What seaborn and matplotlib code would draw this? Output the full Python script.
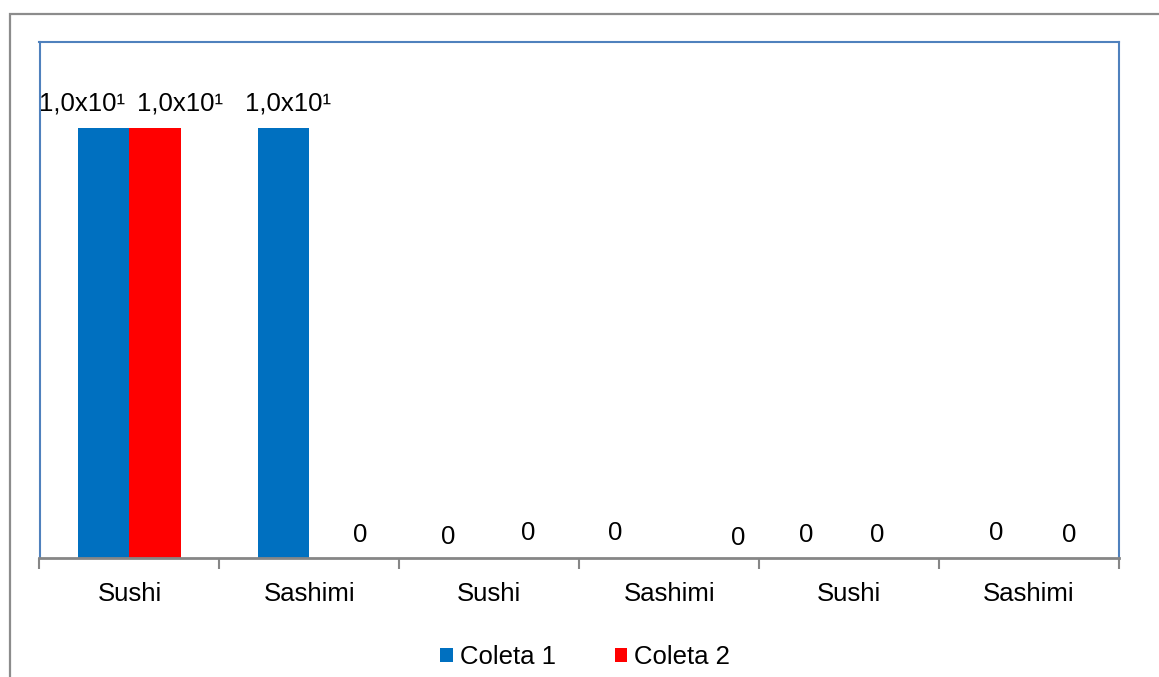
import matplotlib
matplotlib.use("Agg")
import matplotlib.pyplot as plt
import seaborn as sns
import pandas as pd
from matplotlib.patches import Rectangle, Patch

# ---- data ----
categories = ["Sushi", "Sashimi", "Sushi", "Sashimi", "Sushi", "Sashimi"]
coleta1 = [10, 10, 0, 0, 0, 0]
coleta2 = [10, 0, 0, 0, 0, 0]
series_names = ["Coleta 1", "Coleta 2"]

# label nudges (pixels) to mimic the hand-placed labels of the original
lab_dx = [[-22, 25], [4, 25], [-15, 13], [-28, 43], [-17, 2], [-7, 14]]
lab_dy = [[25, 25], [25, 23], [21, 25], [25, 20], [23, 23], [25, 23]]

colors = ["#0070C0", "#FF0000"]

rows = []
for i, c in enumerate(categories):
    rows.append({"pos": i, "serie": series_names[0], "valor": coleta1[i]})
    rows.append({"pos": i, "serie": series_names[1], "valor": coleta2[i]})
df = pd.DataFrame(rows)

sns.set_theme(style="white")
plt.rcParams["font.family"] = ["Liberation Sans", "DejaVu Sans"]
plt.rcParams["text.color"] = "black"

fig = plt.figure(figsize=(11.59, 6.77), dpi=100)
ax = fig.add_axes([39.5 / 1159, 1 - 558 / 677, (1119 - 39.5) / 1159, (558 - 42) / 677])

sns.barplot(data=df, x="pos", y="valor", hue="serie", hue_order=series_names,
            palette=colors, width=0.572, saturation=1, errorbar=None,
            linewidth=0, ax=ax, legend=False)

ax.set_xlim(-0.5, len(categories) - 0.5)
ax.set_ylim(0, 12)
ax.set_yticks([])
ax.set_xlabel("")
ax.set_ylabel("")

ax.set_xticks(range(len(categories)))
ax.set_xticklabels(categories, fontsize=18.5, color="black")
ax.set_xticks([x - 0.5 for x in range(len(categories) + 1)], minor=True)
ax.tick_params(axis="x", which="major", length=0, pad=17)
ax.tick_params(axis="x", which="minor", length=8, width=1.5, color="#868686", direction="out", bottom=True)

for side in ["top", "left", "right"]:
    ax.spines[side].set_color("#4F81BD")
    ax.spines[side].set_linewidth(1.5)
ax.spines["bottom"].set_color("#868686")
ax.spines["bottom"].set_linewidth(2)


def fmt(v):
    if v == 0:
        return "0"
    return "1,0x10\u00b9"


# value labels
for h, (name, vals) in enumerate(zip(series_names, [coleta1, coleta2])):
    cont = ax.containers[h]
    for i, bar in enumerate(cont):
        xc = bar.get_x() + bar.get_width() / 2
        ax.annotate(fmt(vals[i]), xy=(xc, vals[i]),
                    xytext=(lab_dx[i][h], lab_dy[i][h]), textcoords="offset pixels",
                    ha="center", va="center", fontsize=18.5, color="black",
                    annotation_clip=False)

# legend
handles = [Patch(facecolor=c, edgecolor="none") for c in colors]
fig.legend(handles, series_names, loc="center", bbox_to_anchor=(585 / 1159, 1 - 657 / 677),
           ncol=2, frameon=False, fontsize=18.5, handlelength=0.5, handleheight=0.5,
           handletextpad=0.25, columnspacing=2.3, labelcolor="black")

# outer chart frame
fig.patches.append(Rectangle((9.5 / 1159, -0.2), 2, 1.2 - 13.5 / 677, transform=fig.transFigure,
                             fill=False, edgecolor="#8C8C8C", linewidth=1.6))

fig.savefig("out.png", dpi=100)
